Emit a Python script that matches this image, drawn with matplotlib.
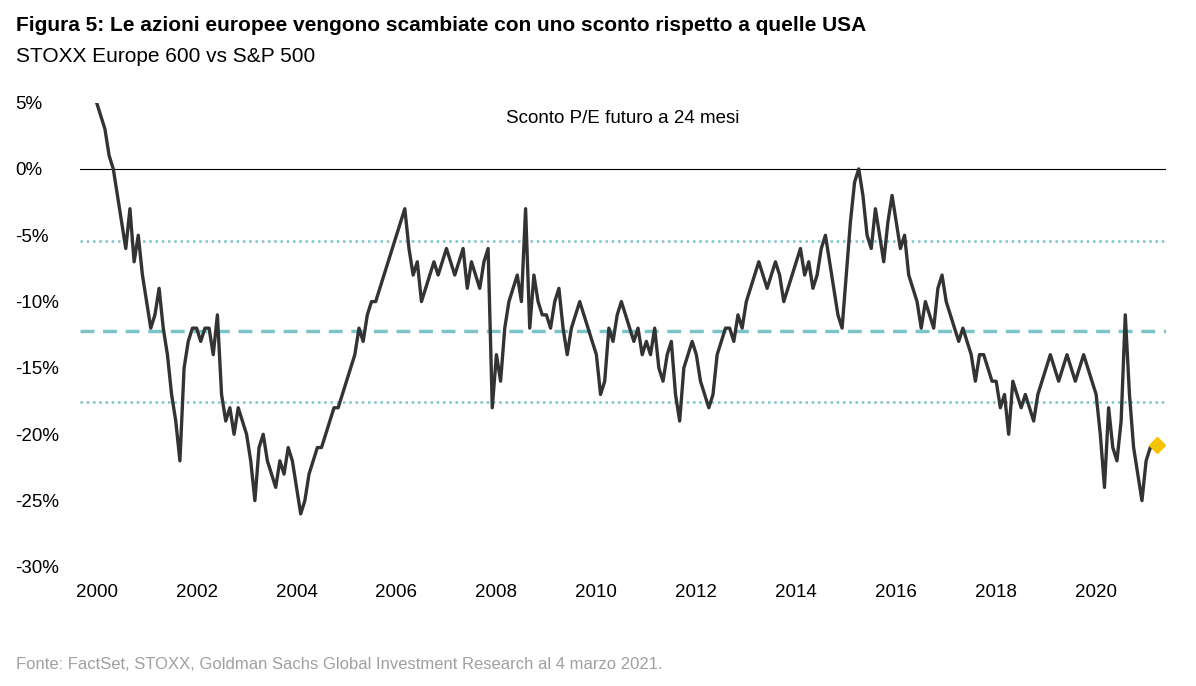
import matplotlib.pyplot as plt
import numpy as np

plt.rcParams['font.family'] = ['Liberation Sans', 'DejaVu Sans']

start_year = 2000
# monthly 24m forward P/E discount (%), Europe vs US
v2000 = [5, 4, 3, 1, 0, -2, -4, -6, -3, -7, -5, -8]
v2001 = [-10, -12, -11, -9, -12, -14, -17, -19, -22, -15, -13, -12]
v2002 = [-12, -13, -12, -12, -14, -11, -17, -19, -18, -20, -18, -19]
v2003 = [-20, -22, -25, -21, -20, -22, -23, -24, -22, -23, -21, -22]
v2004 = [-24, -26, -25, -23, -22, -21, -21, -20, -19, -18, -18, -17]
v2005 = [-16, -15, -14, -12, -13, -11, -10, -10, -9, -8, -7, -6]
v2006 = [-5, -4, -3, -6, -8, -7, -10, -9, -8, -7, -8, -7]
v2007 = [-6, -7, -8, -7, -6, -9, -7, -8, -9, -7, -6, -18]
v2008 = [-14, -16, -12, -10, -9, -8, -10, -3, -12, -8, -10, -11]
v2009 = [-11, -12, -10, -9, -12, -14, -12, -11, -10, -11, -12, -13]
v2010 = [-14, -17, -16, -12, -13, -11, -10, -11, -12, -13, -12, -14]
v2011 = [-13, -14, -12, -15, -16, -14, -13, -17, -19, -15, -14, -13]
v2012 = [-14, -16, -17, -18, -17, -14, -13, -12, -12, -13, -11, -12]
v2013 = [-10, -9, -8, -7, -8, -9, -8, -7, -8, -10, -9, -8]
v2014 = [-7, -6, -8, -7, -9, -8, -6, -5, -7, -9, -11, -12]
v2015 = [-8, -4, -1, 0, -2, -5, -6, -3, -5, -7, -4, -2]
v2016 = [-4, -6, -5, -8, -9, -10, -12, -10, -11, -12, -9, -8]
v2017 = [-10, -11, -12, -13, -12, -13, -14, -16, -14, -14, -15, -16]
v2018 = [-16, -18, -17, -20, -16, -17, -18, -17, -18, -19, -17, -16]
v2019 = [-15, -14, -15, -16, -15, -14, -15, -16, -15, -14, -15, -16]
v2020 = [-17, -20, -24, -18, -21, -22, -19, -11, -17, -21, -23, -25]
v2021 = [-22, -21, -21]

values = (v2000 + v2001 + v2002 + v2003 + v2004 + v2005 + v2006 + v2007 + v2008
          + v2009 + v2010 + v2011 + v2012 + v2013 + v2014 + v2015 + v2016
          + v2017 + v2018 + v2019 + v2020 + v2021)
dates = start_year + np.arange(len(values)) / 12

mean_line = -12.2
band_hi = -5.4
band_lo = -17.6
last_value = -20.8

fig = plt.figure(figsize=(11.96, 6.86), dpi=100)
ax = fig.add_axes([0.067, 0.1735, 0.908, 0.677])

teal = '#7cc4c8'
ax.axhline(0, color='black', lw=0.8)
ax.axhline(mean_line, color=teal, lw=2.5, ls=(0, (4, 2.5)))
ax.axhline(band_hi, color=teal, lw=1.8, ls=(0, (1, 1.5)))
ax.axhline(band_lo, color=teal, lw=1.8, ls=(0, (1, 1.5)))
ax.plot(dates, values, color='#333333', lw=2.4)
ax.plot([dates[-1] + 0.05], [last_value], marker='D', color='#f5c400', ms=8)

ax.set_xlim(1999.67, 2021.4)
ax.set_ylim(-30, 5)
ax.set_yticks(range(-30, 6, 5))
ax.set_yticklabels(['-30%', '-25%', '-20%', '-15%', '-10%', '-5%', '0%', '5%'], ha='left')
ax.set_xticks(range(2000, 2021, 2))
ax.tick_params(labelsize=13.5, length=0, pad=12)
ax.tick_params(axis='y', pad=47)
for s in ax.spines.values():
    s.set_visible(False)

ax.text(0.5, 0.985, 'Sconto P/E futuro a 24 mesi', transform=ax.transAxes,
        ha='center', va='top', fontsize=13.5)
fig.text(0.013, 0.955, 'Figura 5: Le azioni europee vengono scambiate con uno sconto rispetto a quelle USA',
         fontsize=15, fontweight='bold')
fig.text(0.013, 0.91, 'STOXX Europe 600 vs S&P 500', fontsize=15)
fig.text(0.013, 0.025, 'Fonte: FactSet, STOXX, Goldman Sachs Global Investment Research al 4 marzo 2021.',
         fontsize=12, color='#a0a0a0')

fig.savefig('out.png', dpi=100)
